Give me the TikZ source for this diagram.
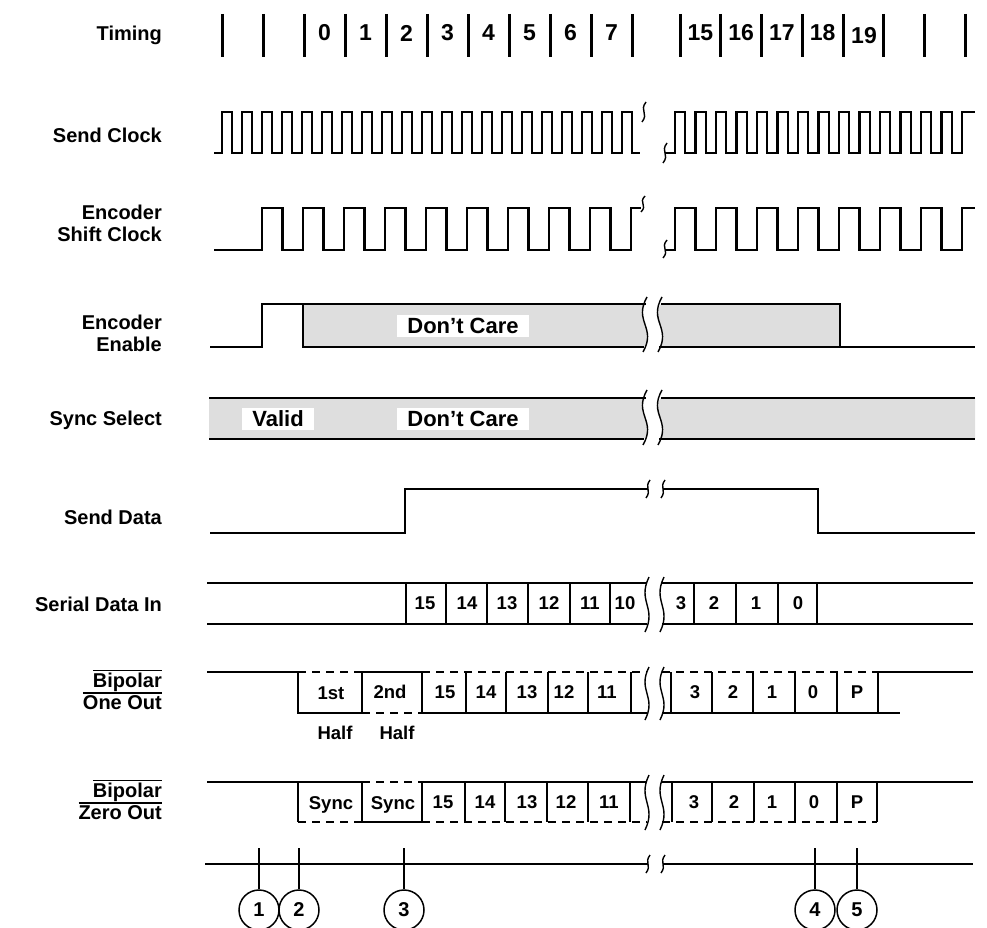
\documentclass[tikz,border=0pt]{standalone}
\usepackage{fontspec}
\setmainfont{Liberation Sans}
% break mark: x, top, bottom, swing
\newcommand{\brk}[4]{\draw[brk] (#1+2,#2) .. controls +(-#4,{0.45*(#3-#2)}) and +(#4,{-0.45*(#3-#2)}) .. (#1-2,#3);}
\newcommand{\ovl}[1]{\leavevmode\vbox{\hrule height 1.5pt\kern2pt\hbox{#1}}}
\begin{document}
\begin{tikzpicture}[x=1pt,y=-1pt,line width=2.3pt,
    font=\bfseries\fontsize{20}{22}\selectfont,
    lbl/.style={anchor=east,align=right,inner sep=0pt},
    cell/.style={inner sep=0pt,font=\bfseries\fontsize{18.5}{21}\selectfont},
    tnum/.style={inner sep=0pt,font=\bfseries\fontsize{23}{25}\selectfont},
    dc/.style={fill=white,inner xsep=10pt,inner ysep=3pt,font=\bfseries\fontsize{22}{24}\selectfont},
    num/.style={circle,draw,line width=1.5pt,minimum size=40pt,inner sep=0pt},
    brk/.style={line width=1.4pt},
    dsh/.style={dash pattern=on 8pt off 6pt},
    care/.style={fill=black!13}]
\useasboundingbox (0,0) rectangle (987,928);

% signal names
\node[lbl] (tim) at (163,35) {Timing};
\node[lbl] (sclk) at (163,135) {Send Clock};
\node[lbl] (shclk) at (163,223) {Encoder\\Shift Clock};
\node[lbl] (enen) at (163,333) {Encoder\\Enable};
\node[lbl] (ssel) at (163,420) {Sync Select};
\node[lbl] (sdat) at (163,517) {Send Data};
\node[lbl] (sdin) at (163,604) {Serial Data In};
\node[lbl] (bone) at (163,690) {\ovl{Bipolar}\\\ovl{One Out}};
\node[lbl] (bzero) at (163,800) {\ovl{Bipolar}\\\ovl{Zero Out}};

% timing
\foreach \k in {0,...,10}
    \draw[line width=3pt] ({222+41*\k},14) -- ++(0,43);
\foreach \k in {0,...,7}
    \draw[line width=3pt] ({680+40.75*\k},14) -- ++(0,43);
\foreach \v [count=\i from 2] in {0,...,7}
    \node[tnum] (t\v) at ({222+41*\i+20.5},33) {\v};
\foreach \v [count=\i from 0] in {15,...,18}
    \node[tnum] (t\v) at ({680+40.75*\i+20.4},33) {\v};
\node[tnum] (t19) at (864,36) {19};

% send clock
\draw (214,153) \foreach \k in {0,...,20} {-- ({222+20*\k},153) -- ++(0,-41) -- ++(10,0) -- ++(0,41)} -- (640,153);
\brk{644}{102}{122}{7}
\brk{665}{143}{163}{7}
\draw (665,153) \foreach \k in {0,...,13} {-- ({675+20.5*\k},153) -- ++(0,-41) -- ++(10.25,0) -- ++(0,41)} -- (962,153) -- (962,112) -- (975,112);

% encoder shift clock
\draw (214,250) \foreach \k in {0,...,8} {-- ({262+41*\k},250) -- ++(0,-42) -- ++(20.5,0) -- ++(0,42)} -- (631,250) -- (631,208) -- (641,208);
\brk{643}{196}{212}{7}
\brk{665}{240}{258}{7}
\draw (666,250) \foreach \k in {0,...,6} {-- ({675+41*\k},250) -- ++(0,-42) -- ++(20.5,0) -- ++(0,42)} -- (962,250) -- (962,208) -- (975,208);

% encoder enable
\fill[care] (303,304) -- (646,304) .. controls +(-14,19) and +(14,-19) .. (644,347) -- (303,347) -- cycle;
\fill[care] (661,304) .. controls +(-14,19) and +(14,-19) .. (659,347) -- (840,347) -- (840,304) -- cycle;
\draw (210,347) -- (262,347) -- (262,304) -- (646,304) (303,304) -- (303,347) -- (644,347);
\draw (661,304) -- (840,304) -- (840,347) -- (975,347) (659,347) -- (840,347);
\brk{645}{297}{352}{14}
\brk{660}{297}{352}{14}
\node[dc] (dc1) at (463,326) {Don’t Care};

% sync select
\fill[care] (209,398) -- (646,398) .. controls +(-14,18) and +(14,-18) .. (644,439) -- (209,439) -- cycle;
\fill[care] (661,398) .. controls +(-14,18) and +(14,-18) .. (659,439) -- (975,439) -- (975,398) -- cycle;
\draw (209,398) -- (646,398) (209,439) -- (644,439);
\draw (661,398) -- (975,398) (659,439) -- (975,439);
\brk{645}{390}{445}{14}
\brk{660}{390}{445}{14}
\node[dc] (valid) at (278,419) {Valid};
\node[dc] (dc2) at (463,419) {Don’t Care};

% send data
\draw (210,533) -- (405,533) -- (405,489) -- (648,489);
\draw (663,489) -- (818,489) -- (818,533) -- (975,533);
\brk{648}{480}{498}{6}
\brk{663}{480}{498}{6}

% serial data in
\draw (207,583) -- (647,583) (207,624) -- (647,624) (662,583) -- (973,583) (662,624) -- (973,624);
\foreach \x in {406,446,487,528,570,610,694,736,778,817}
    \draw (\x,583) -- (\x,624);
\brk{647}{577}{632}{12}
\brk{662}{577}{632}{12}
\foreach \x/\v in {425/15,467/14,507/13,549/12,590/11,625/10}
    \node[cell] (sd\v) at (\x,603) {\v};
\foreach \x/\v in {681/3,714/2,756/1,798/0}
    \node[cell] (sdb\v) at (\x,603) {\v};

% bipolar one out
\draw (207,672) -- (298,672) -- (298,713) -- (362,713);
\draw[dsh] (298,672) -- (362,672);
\draw (362,713) -- (362,672) -- (422,672);
\draw[dsh] (362,713) -- (422,713);
\draw[dsh] (422,672) -- (647,672) (662,672) -- (878,672);
\draw (422,713) -- (647,713) (662,713) -- (900,713) (878,672) -- (973,672);
\foreach \x in {422,466,506,548,588,631,671,712,753,795,837,878}
    \draw (\x,672) -- (\x,713);
\brk{647}{667}{720}{12}
\brk{662}{667}{720}{12}
\node[cell] (h1) at (331,693) {1st};
\node[cell] (h2) at (390,692) {2nd};
\node[cell] (hh1) at (335,733) {Half};
\node[cell] (hh2) at (397,733) {Half};
\foreach \x/\v in {445/15,486/14,527/13,564/12,607/11,695/3,733/2,772/1,813/0,857/P}
    \node[cell] (bo\v) at (\x,692) {\v};

% bipolar zero out
\draw (207,782) -- (362,782) (298,782) -- (298,822);
\draw[dsh] (298,822) -- (362,822);
\draw (362,782) -- (362,822) -- (422,822);
\draw[dsh] (362,782) -- (422,782);
\draw (422,782) -- (647,782) (662,782) -- (973,782);
\draw[dsh] (422,822) -- (647,822) (662,822) -- (877,822);
\foreach \x in {422,465,505,547,588,630,672,712,754,795,837,877}
    \draw (\x,782) -- (\x,822);
\brk{647}{775}{830}{12}
\brk{662}{775}{830}{12}
\node[cell] (s1) at (331,805) {Sync};
\node[cell] (s2) at (393,805) {Sync};
\foreach \x/\v in {443/15,485/14,527/13,566/12,609/11,694/3,734/2,772/1,814/0,857/P}
    \node[cell] (bz\v) at (\x,802) {\v};

% events
\draw (205,864) -- (648,864) (663,864) -- (973,864);
\brk{648}{855}{873}{6}
\brk{663}{855}{873}{6}
\foreach \x/\n in {259/1,299/2,404/3,815/4,857/5} {
    \node[num] (m\n) at (\x,910) {\n};
    \draw[line width=2pt] (m\n.north) -- ++(0,-41);
}
\end{tikzpicture}
\end{document}
